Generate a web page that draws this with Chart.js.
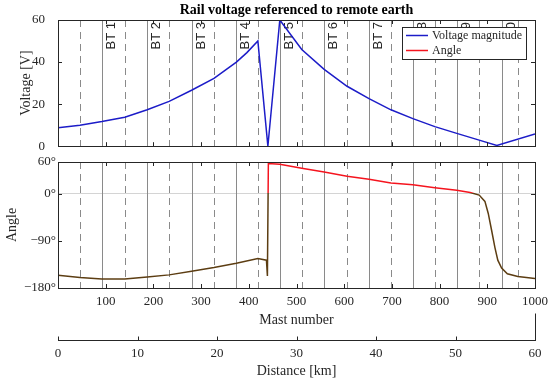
<!DOCTYPE html>
<html>
<head>
<meta charset="utf-8">
<script src="https://cdn.jsdelivr.net/npm/chart.js@4.4.0/dist/chart.umd.min.js"></script>
<style>
  html, body { margin: 0; background: #fff; overflow: hidden; }
  #wrap { position: relative; width: 550px; height: 380px; overflow: hidden; }
  canvas { position: absolute; left: 0; }
</style>
</head>
<body>
<div id="wrap">
  <canvas id="voltChart" width="550" height="159" style="top:0"></canvas>
  <canvas id="angleChart" width="554" height="228" style="top:152px"></canvas>
</div>
<script>
// mast numbers of the booster transformers and the midpoints between them
const btMasts = [92, 186, 280, 373, 465, 558, 652, 744, 837, 931];
const midMasts = [46, 140, 233, 327, 419, 511, 606, 698, 790, 883, 964];
const btLabels = ['BT 1', 'BT 2', 'BT 3', 'BT 4', 'BT 5', 'BT 6', 'BT 7', 'BT 8', 'BT 9', 'BT 10'];

// voltage magnitude [V]
const voltMast = [0, 46, 92, 140, 187, 233, 280, 327, 374, 396, 419, 440, 465, 511, 558, 606, 652, 698, 744, 790, 836, 883, 920, 1000];
const voltage  = [8.8, 10.0, 11.7, 13.8, 17.3, 21.3, 26.6, 32.2, 40.0, 44.5, 50.0, 0, 60, 46, 36.5, 28.5, 22.6, 17.3, 13.1, 9.3, 6.1, 2.9, 0.4, 5.8];

// angle [deg]
const angleMast = [0, 46, 92, 140, 187, 233, 280, 327, 374, 419, 437, 439, 441, 465, 511, 558, 606, 652, 698, 744, 790, 836, 864, 883, 895, 902, 909, 916, 922, 930, 942, 964, 1000];
const angle     = [-155.5, -160, -163, -163, -159, -155, -148, -141, -133, -124, -127, -157, 57, 55.5, 48, 41, 33, 27, 20, 16.5, 11, 6, 2, -3, -15, -38, -70, -103, -127, -142, -153, -158, -162];

// tick values
const mastTicks = [100, 200, 300, 400, 500, 600, 700, 800, 900, 1000];
const distTicks = [0, 10, 20, 30, 40, 50, 60];
const voltTicks = [0, 20, 40, 60];
const angleTicks = [-180, -90, 0, 60];

const serif = 'Liberation Serif';
const axisColor = '#262626';
const blue = '#1c1cc8';
const red = '#f5141e';
const brown = '#5c3d12';

function setTicks(values) {
  return scale => { scale.ticks = values.map(v => ({ value: v })); };
}

const btPlugin = {
  id: 'btLines',
  beforeDatasetsDraw(chart, args, opts) {
    const { ctx, chartArea: a, scales: { x } } = chart;
    ctx.save();
    ctx.lineWidth = 1;
    ctx.strokeStyle = '#8a8a8a';
    ctx.beginPath();
    btMasts.forEach(m => {
      const px = Math.round(x.getPixelForValue(m)) + 0.5;
      ctx.moveTo(px, a.top); ctx.lineTo(px, a.bottom);
    });
    ctx.stroke();
    ctx.setLineDash([7, 5]);
    ctx.beginPath();
    midMasts.forEach(m => {
      const px = Math.round(x.getPixelForValue(m)) + 0.5;
      ctx.moveTo(px, a.top); ctx.lineTo(px, a.bottom);
    });
    ctx.stroke();
    ctx.setLineDash([]);
    if (opts.labels) {
      ctx.fillStyle = axisColor;
      ctx.font = '13px "Liberation Sans"';
      ctx.textAlign = 'right';
      ctx.textBaseline = 'top';
      btMasts.forEach((m, i) => {
        ctx.save();
        ctx.translate(x.getPixelForValue(m) + 3, a.top + 2);
        ctx.rotate(-Math.PI / 2);
        ctx.fillText(btLabels[i], 0, 0);
        ctx.restore();
      });
    }
    ctx.restore();
  }
};

const boxPlugin = {
  id: 'box',
  afterDatasetsDraw(chart) {
    const { ctx, chartArea: a, scales: { x, y } } = chart;
    const L = 4;
    ctx.save();
    ctx.strokeStyle = axisColor;
    ctx.lineWidth = 1;
    ctx.beginPath();
    x.ticks.forEach(t => {
      const px = Math.round(x.getPixelForValue(t.value)) + 0.5;
      ctx.moveTo(px, a.top); ctx.lineTo(px, a.top + L);
      ctx.moveTo(px, a.bottom); ctx.lineTo(px, a.bottom - L);
    });
    y.ticks.forEach(t => {
      const py = Math.round(y.getPixelForValue(t.value)) + 0.5;
      ctx.moveTo(a.left, py); ctx.lineTo(a.left + L, py);
      ctx.moveTo(a.right, py); ctx.lineTo(a.right - L, py);
    });
    ctx.stroke();
    ctx.strokeRect(Math.round(a.left) + 0.5, Math.round(a.top) + 0.5,
                   Math.round(a.right - a.left), Math.round(a.bottom - a.top));
    ctx.restore();
  }
};

const legendPlugin = {
  id: 'boxLegend',
  afterDraw(chart) {
    const { ctx, chartArea: a } = chart;
    const items = [['Voltage magnitude', blue], ['Angle', red]];
    const w = 124, h = 32;
    const x = Math.round(a.right - 9 - w), y = Math.round(a.top + 7);
    ctx.save();
    ctx.fillStyle = '#fff';
    ctx.fillRect(x, y, w, h);
    ctx.strokeStyle = axisColor;
    ctx.lineWidth = 1;
    ctx.strokeRect(x + 0.5, y + 0.5, w, h);
    ctx.font = '12px "' + serif + '"';
    ctx.textBaseline = 'middle';
    items.forEach(([label, color], i) => {
      const yy = y + 8.5 + i * 15;
      ctx.strokeStyle = color;
      ctx.lineWidth = 1.5;
      ctx.beginPath();
      ctx.moveTo(x + 4, yy); ctx.lineTo(x + 26, yy);
      ctx.stroke();
      ctx.fillStyle = axisColor;
      ctx.fillText(label, x + 30, yy);
    });
    ctx.restore();
  }
};

const distPlugin = {
  id: 'distTicks',
  afterDraw(chart) {
    const { ctx } = chart;
    const s = chart.scales.x2;
    const top = Math.round(s.top) + 0.5;
    ctx.save();
    ctx.strokeStyle = axisColor;
    ctx.lineWidth = 1;
    ctx.beginPath();
    s.ticks.forEach(t => {
      const px = Math.round(s.getPixelForValue(t.value)) + 0.5;
      ctx.moveTo(px, top); ctx.lineTo(px, top - 4);
    });
    const pr = Math.round(s.getPixelForValue(s.max)) + 0.5;
    ctx.moveTo(pr, top); ctx.lineTo(pr, top - 27);
    ctx.stroke();
    ctx.restore();
  }
};

Chart.defaults.font.family = serif;
Chart.defaults.color = axisColor;

new Chart(document.getElementById('voltChart'), {
  type: 'line',
  data: {
    datasets: [{
      label: 'Voltage magnitude',
      data: voltMast.map((m, i) => ({ x: m, y: voltage[i] })),
      borderColor: blue,
      borderWidth: 1.5,
      pointRadius: 0,
      tension: 0
    }]
  },
  options: {
    responsive: false,
    animation: false,
    layout: { padding: { left: 0, right: 15, top: 0, bottom: 0 } },
    plugins: {
      legend: { display: false },
      tooltip: { enabled: false },
      title: {
        display: true,
        text: 'Rail voltage referenced to remote earth',
        fullSize: false,
        color: '#000',
        font: { family: serif, size: 14, weight: 'bold' },
        padding: { top: 2, bottom: 1.2 }
      },
      btLines: { labels: true }
    },
    scales: {
      x: {
        type: 'linear', min: 0, max: 1000,
        afterBuildTicks: setTicks(mastTicks),
        ticks: { display: false },
        grid: { drawOnChartArea: false, drawTicks: false },
        border: { display: false },
        afterFit: s => { s.height = 0; }
      },
      y: {
        min: 0, max: 60,
        afterBuildTicks: setTicks(voltTicks),
        ticks: { font: { size: 13 }, padding: 5 },
        grid: { display: false },
        border: { display: false },
        title: { display: true, text: 'Voltage [V]', font: { size: 14 }, padding: { top: 18, bottom: 0 } },
        afterFit: s => { s.width = 58; }
      }
    }
  },
  plugins: [btPlugin, boxPlugin, legendPlugin]
});

new Chart(document.getElementById('angleChart'), {
  type: 'line',
  data: {
    datasets: [{
      label: 'Angle',
      data: angleMast.map((m, i) => ({ x: m, y: angle[i] })),
      borderColor: ctx => {
        const chart = ctx.chart;
        const a = chart.chartArea;
        if (!a) return red;
        const y0 = chart.scales.y.getPixelForValue(0);
        const stop = Math.min(1, Math.max(0, (y0 - a.top) / (a.bottom - a.top)));
        const g = chart.ctx.createLinearGradient(0, a.top, 0, a.bottom);
        g.addColorStop(0, red);
        g.addColorStop(stop, red);
        g.addColorStop(stop, brown);
        g.addColorStop(1, brown);
        return g;
      },
      borderWidth: 1.5,
      pointRadius: 0,
      tension: 0
    }]
  },
  options: {
    responsive: false,
    animation: false,
    layout: { padding: { left: 0, right: 0, top: 10, bottom: 0 } },
    plugins: {
      legend: { display: false },
      tooltip: { enabled: false },
      btLines: { labels: false }
    },
    scales: {
      x: {
        type: 'linear', min: 0, max: 1000,
        afterBuildTicks: setTicks(mastTicks),
        ticks: { font: { size: 13 }, padding: 6, maxRotation: 0, callback: v => String(v) },
        grid: { drawOnChartArea: false, drawTicks: false },
        border: { display: false },
        title: { display: true, text: 'Mast number', font: { size: 14 }, padding: { top: 2, bottom: 11.6 } },
        afterFit: s => { s.height = 52; }
      },
      x2: {
        type: 'linear', position: 'bottom', min: 0, max: 60,
        afterBuildTicks: setTicks(distTicks),
        ticks: { font: { size: 13 }, padding: 6, maxRotation: 0 },
        grid: { display: false, drawTicks: false },
        border: { display: true, color: axisColor, width: 1 },
        title: { display: true, text: 'Distance [km]', font: { size: 14 }, padding: { top: 2, bottom: 0 } },
        afterFit: s => { s.height = 40; }
      },
      y: {
        min: -180, max: 60,
        afterBuildTicks: setTicks(angleTicks),
        ticks: {
          font: { size: 13 }, padding: 2,
          callback: v => (v < 0 ? '\u2212' + Math.abs(v) : v) + '\u00b0'
        },
        grid: {
          drawTicks: false,
          lineWidth: 1,
          color: c => (c.tick && c.tick.value === 0 ? '#d4d4d4' : 'rgba(0,0,0,0)')
        },
        border: { display: false },
        title: { display: true, text: 'Angle', font: { size: 14 }, padding: { top: 4, bottom: 0 } },
        afterFit: s => { s.width = 58; }
      }
    }
  },
  plugins: [btPlugin, boxPlugin, distPlugin]
});
</script>
</body>
</html>
